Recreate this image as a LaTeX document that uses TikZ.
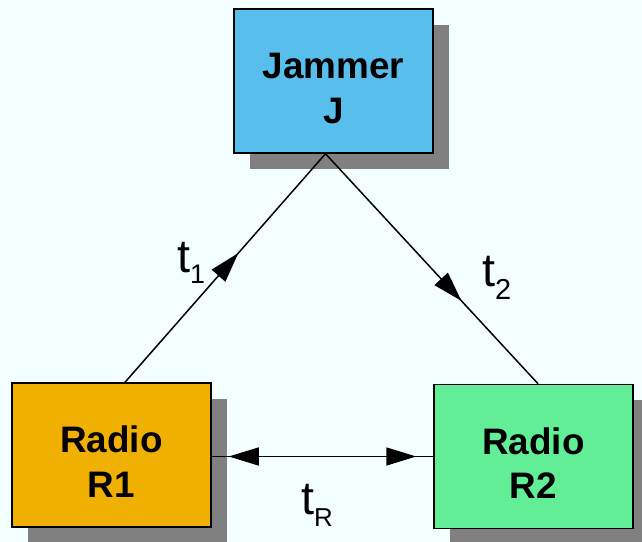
\documentclass[tikz,border=0pt]{standalone}
\usepackage{fontspec}
\setmainfont{Liberation Sans}
\usetikzlibrary{calc}
\usetikzlibrary{arrows.meta}
\usetikzlibrary{shadows}
\usetikzlibrary{decorations.markings}
\usetikzlibrary{positioning}

\definecolor{bgcyan}{HTML}{F4FFFF}
\definecolor{jamblue}{HTML}{58BEEC}
\definecolor{radgold}{HTML}{F0B000}
\definecolor{radgreen}{HTML}{62EE96}

% t with a subscript: #1 subscript, #2 its size, #3 how far it is lowered
\newcommand{\tlabel}[3]{t\raisebox{#3}{\fontsize{#2}{#2}\selectfont #1}}
% two lines of box text, set a little below the middle
\newcommand{\boxtext}[2]{\raisebox{-11bp}[\height][\depth]{%
    \begin{tabular}{@{}c@{}}#1\\#2\end{tabular}}}

\begin{document}
\begin{tikzpicture}[x=1bp,y=1bp,
    box/.style={draw=black,line width=1.5bp,minimum width=199bp,minimum height=144bp,
      inner sep=0pt,font=\fontsize{37}{45}\selectfont\bfseries,
      drop shadow={shadow xshift=16bp,shadow yshift=-16bp,fill=black!50,opacity=1}},
    link/.style={line width=1.5bp},
    midtip/.style={postaction={decorate},decoration={markings,
        mark=at position #1 with {\arrow{Triangle[length=30bp,width=18bp]}}}},
    lbl/.style={inner sep=0pt,anchor=base west,font=\fontsize{47}{47}\selectfont}]

  % background and page size
  \fill[bgcyan] (0,0) rectangle (642,542);
  \useasboundingbox (0,0) rectangle (642,542);

  \node[box,fill=jamblue] (jam) at (333.5,461) {\boxtext{Jammer}{J}};
  \node[box,fill=radgold] (r1) at (111.5,87) {\boxtext{Radio}{R1}};
  \node[box,fill=radgreen] (r2) at (533.5,85.5) {\boxtext{Radio}{R2}};

  \coordinate (jb) at ($(jam.south)+(-8,0)$);
  \coordinate (r1t) at ($(r1.north)+(13.5,0)$);
  \coordinate (r2t) at ($(r2.north)+(4.5,0)$);
  \coordinate (r1e) at (r1.east |- r2.west);

  \draw[link,midtip=0.565] (r1t) -- (jb);
  \draw[link,midtip=0.64] (jb) -- (r2t);
  \draw[link] (r1e) -- (r2.west);
  \draw[link,{Triangle[length=30bp,width=18bp]}-{Triangle[length=30bp,width=18bp]},
    shorten <=17bp,shorten >=17bp] (r1e) -- (r2.west);

  \node[lbl] (t1) at (177,269) {\tlabel{1}{27}{-11bp}};
  \node[lbl] (t2) at (482,255) {\tlabel{2}{29}{-13bp}};
  \node[lbl] (tR) at (301,27) {\tlabel{R}{26}{-12bp}};
\end{tikzpicture}
\end{document}
